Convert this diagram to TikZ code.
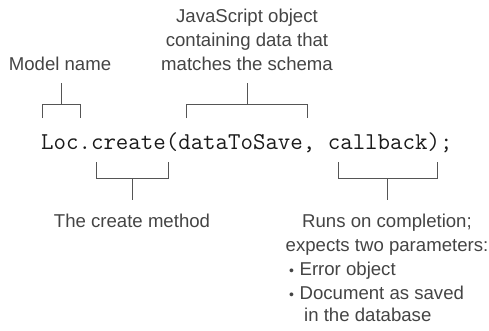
\documentclass[tikz,border=0pt]{standalone}
\usepackage{fontspec}
\setmainfont{Liberation Sans}
\definecolor{txt}{HTML}{444444}
\definecolor{ln}{HTML}{555555}
\definecolor{codec}{HTML}{1A1A1A}
\begin{document}
\begin{tikzpicture}[x=1pt,y=-1pt,
  lbl/.style={inner sep=0pt, text=txt, font=\fontsize{18.6}{23}\selectfont, anchor=base},
  lblw/.style={lbl, anchor=base west},
  brk/.style={draw=ln, line width=0.9pt}]
\useasboundingbox (0,0) rectangle (489,330);
% code line
\node[inner sep=0pt, anchor=base west, text=codec, font=\ttfamily\fontsize{24.2}{26}\selectfont] (code) at (41,149) {Loc.create(dataToSave, callback);};
% top labels
\node[lbl] (model) at (60,70) {Model name};
\node[lbl] (js1) at (247,22) {JavaScript object};
\node[lbl] (js2) at (247,46) {containing data that};
\node[lbl] (js3) at (247,70) {matches the schema};
% bottom labels
\node[lbl] (create) at (132,227) {The create method};
\node[lbl] (runs) at (387,227) {Runs on completion;};
\node[lbl] (expects) at (387,251) {expects two parameters:};
\node[lblw] (b1) at (289,275) {{\fontsize{14}{14}\selectfont\textbullet}\hspace{5.5pt}Error object};
\node[lblw] (b2) at (289,299) {{\fontsize{14}{14}\selectfont\textbullet}\hspace{5.5pt}Document as saved};
\node[lblw] (b3) at (304,321) {in the database};
% bracket coordinates
\coordinate (mtop) at (61,83);
\coordinate (mmid) at (61,104);
\coordinate (jtop) at (247,83);
\coordinate (jmid) at (247,104);
\coordinate (cmid) at (132,178);
\coordinate (cbot) at (132,200);
\coordinate (kmid) at (387,178);
\coordinate (kbot) at (387,200);
% top brackets
\draw[brk] (42,118) -- (42,104) -- (80,104) -- (80,118);
\draw[brk] (mmid) -- (mtop);
\draw[brk] (186,118) -- (186,104) -- (307,104) -- (307,118);
\draw[brk] (jmid) -- (jtop);
% bottom brackets
\draw[brk] (96,162) -- (96,178) -- (168,178) -- (168,162);
\draw[brk] (cmid) -- (cbot);
\draw[brk] (338,162) -- (338,178) -- (437,178) -- (437,162);
\draw[brk] (kmid) -- (kbot);
\end{tikzpicture}
\end{document}
